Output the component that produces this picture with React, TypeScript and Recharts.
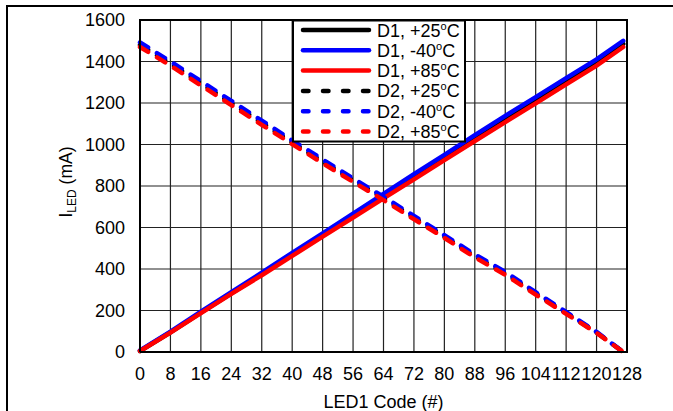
import { CartesianGrid, Line, LineChart, ReferenceArea, XAxis, YAxis } from "recharts";

const codes = [0, 8, 16, 24, 32, 40, 48, 56, 64, 72, 80, 88, 96, 104, 112, 120, 127];

const d1At25 = [5, 95, 190, 283, 375, 470, 565, 658, 752, 845, 938, 1030, 1122, 1212, 1303, 1394, 1485];
const d1AtMinus40 = [8, 98, 195, 288, 382, 478, 572, 667, 762, 857, 950, 1045, 1138, 1228, 1320, 1410, 1500];
const d1At85 = [5, 93, 187, 280, 370, 463, 556, 648, 740, 832, 925, 1017, 1108, 1198, 1290, 1380, 1470];

const d2At25 = [1480, 1390, 1295, 1200, 1105, 1010, 918, 828, 740, 648, 556, 462, 378, 282, 188, 94, 0];
const d2AtMinus40 = [1492, 1400, 1305, 1210, 1115, 1020, 928, 836, 748, 656, 563, 470, 386, 288, 193, 97, 0];
const d2At85 = [1470, 1380, 1285, 1190, 1095, 1002, 910, 820, 732, 640, 550, 456, 372, 276, 184, 92, 0];

const xTicks = [0, 8, 16, 24, 32, 40, 48, 56, 64, 72, 80, 88, 96, 104, 112, 120, 128];
const yTicks = [0, 200, 400, 600, 800, 1000, 1200, 1400, 1600];

const series = [
  { key: "d1At25", label: "D1, +25", color: "#000000", dashed: false, values: d1At25 },
  { key: "d1AtMinus40", label: "D1, -40", color: "#0000ff", dashed: false, values: d1AtMinus40 },
  { key: "d1At85", label: "D1, +85", color: "#ff0000", dashed: false, values: d1At85 },
  { key: "d2At25", label: "D2, +25", color: "#000000", dashed: true, values: d2At25 },
  { key: "d2AtMinus40", label: "D2, -40", color: "#0000ff", dashed: true, values: d2AtMinus40 },
  { key: "d2At85", label: "D2, +85", color: "#ff0000", dashed: true, values: d2At85 },
];

const data = codes.map((code, i) => {
  const row: Record<string, number> = { code };
  series.forEach((s) => {
    row[s.key] = s.values[i];
  });
  return row;
});

const FONT = "'Liberation Sans', Arial, sans-serif";

function YTitle(props: any) {
  const vb = props.viewBox || {};
  const cx = 72;
  const cy = (vb.y ?? 20) + (vb.height ?? 332) / 2 - 4;
  return (
    <text
      x={cx}
      y={cy}
      transform={`rotate(-90 ${cx} ${cy})`}
      textAnchor="middle"
      fontFamily={FONT}
      fontSize={17.5}
      fill="#000"
    >
      <tspan>I</tspan>
      <tspan fontSize={12} dy={4}>LED</tspan>
      <tspan dy={-4}> (mA)</tspan>
    </text>
  );
}

function ChartLegend() {
  return (
    <svg
      width={176}
      height={124}
      style={{ position: "absolute", left: 291, top: 19 }}
    >
      <rect x={2} y={1.5} width={172} height={121} fill="#fff" stroke="#000" strokeWidth={2} />
      {series.map((s, i) => {
        const y = 11 + i * 20.3;
        return (
          <g key={s.key}>
            <line
              x1={12}
              x2={78}
              y1={y}
              y2={y}
              stroke={s.color}
              strokeWidth={4.5}
              strokeLinecap="round"
              strokeDasharray={s.dashed ? "5.5 14.5" : undefined}
            />
            <text x={86} y={y + 6.5} fontFamily={FONT} fontSize={18} fill="#000">
              <tspan>{s.label}</tspan>
              <tspan fontSize={11} dy={-7}>o</tspan>
              <tspan dy={7}>C</tspan>
            </text>
          </g>
        );
      })}
    </svg>
  );
}

export default function App() {
  return (
    <div
      style={{
        position: "absolute",
        left: 0,
        top: 0,
        width: 673,
        height: 411,
        background: "#fff",
        overflow: "hidden",
      }}
    >
      <div
        style={{
          position: "absolute",
          left: 6,
          top: 5,
          width: 680,
          height: 420,
          borderTop: "2px solid #000",
          borderLeft: "2px solid #000",
        }}
      />
      <div style={{ position: "absolute", left: 0, top: 0 }}>
        <LineChart
          width={673}
          height={411}
          data={data}
          margin={{ top: 20, right: 46, bottom: 29, left: 0 }}
        >
          <CartesianGrid stroke="#222" strokeWidth={1.2} />
          <XAxis
            dataKey="code"
            type="number"
            domain={[0, 128]}
            ticks={xTicks}
            interval={0}
            height={30}
            axisLine={{ stroke: "#000", strokeWidth: 2 }}
            tickLine={false}
            tickSize={0}
            tickMargin={15}
            tick={{ fill: "#000", fontSize: 18, fontFamily: FONT }}
            label={{
              value: "LED1 Code (#)",
              position: "insideBottom",
              offset: -26,
              fill: "#000",
              fontSize: 18,
              fontFamily: FONT,
            }}
          />
          <YAxis
            type="number"
            domain={[0, 1600]}
            ticks={yTicks}
            interval={0}
            width={140}
            axisLine={{ stroke: "#000", strokeWidth: 2 }}
            tickLine={false}
            tickSize={0}
            tickMargin={15}
            tick={{ fill: "#000", fontSize: 18, fontFamily: FONT }}
            label={<YTitle />}
          />
          <ReferenceArea
            x1={0}
            x2={128}
            y1={0}
            y2={1600}
            fill="none"
            stroke="#000"
            strokeWidth={2}
            ifOverflow="visible"
          />
          {series.map((s) => (
            <Line
              key={s.key}
              type="linear"
              dataKey={s.key}
              stroke={s.color}
              strokeWidth={4.5}
              strokeLinecap="round"
              strokeDasharray={s.dashed ? "9.5 10.5" : undefined}
              dot={false}
              activeDot={false}
              isAnimationActive={false}
            />
          ))}
        </LineChart>
      </div>
      <ChartLegend />
    </div>
  );
}
